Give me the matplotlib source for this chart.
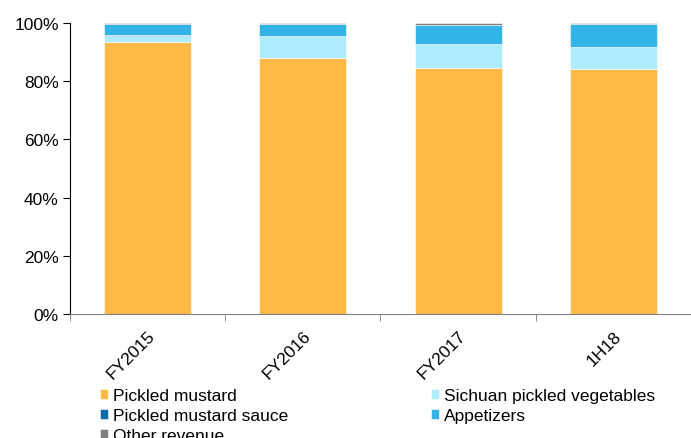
import matplotlib.pyplot as plt
import numpy as np
from matplotlib.ticker import PercentFormatter

plt.rcParams["font.family"] = ["Liberation Sans", "DejaVu Sans"]

periods = ["FY2015", "FY2016", "FY2017", "1H18"]
series = ["Pickled mustard", "Sichuan pickled vegetables", "Pickled mustard sauce",
          "Appetizers", "Other revenue"]
pickled_mustard = [93.4, 88.0, 84.5, 84.2]
sichuan_veg = [2.3, 7.5, 8.2, 7.6]
mustard_sauce = [0.2, 0.0, 0.0, 0.0]
appetizers = [3.8, 4.2, 6.8, 7.9]
other_revenue = [0.3, 0.3, 0.5, 0.3]

colors = ["#FFB946", "#AEEBFC", "#0A6AAA", "#33B4E6", "#808080"]

fig = plt.figure(figsize=(6.91, 4.39), dpi=100)
ax = fig.add_axes([0.101, 0.2825, 0.899, 0.6625])

x = np.arange(len(periods))
bottom = np.zeros(len(periods))
handles = []
for vals, name, c in zip([pickled_mustard, sichuan_veg, mustard_sauce, appetizers, other_revenue],
                         series, colors):
    b = ax.bar(x, vals, 0.56, bottom=bottom, color=c, label=name,
               edgecolor="white", linewidth=0.4)
    handles.append(b)
    bottom += np.array(vals)

ax.set_xlim(-0.5, 3.5)
ax.set_ylim(0, 100)
ax.set_yticks([0, 20, 40, 60, 80, 100])
ax.yaxis.set_major_formatter(PercentFormatter(decimals=0))
ax.tick_params(axis="y", labelsize=12.5, length=5, direction="out", pad=3)

ax.set_xticks(x)
ax.set_xticklabels(periods, rotation=45, ha="right", rotation_mode="anchor", fontsize=12.5)
ax.tick_params(axis="x", which="major", length=0, pad=10)
ax.set_xticks(np.arange(-0.5, 3.6, 1), minor=True)
ax.tick_params(axis="x", which="minor", length=5, color="#808080")

for s in ["top", "right"]:
    ax.spines[s].set_visible(False)
ax.spines["left"].set_color("black")
ax.spines["bottom"].set_color("#808080")
ax.grid(False)

order = [0, 2, 4, 1, 3]
fig.legend([handles[i] for i in order], [series[i] for i in order],
           loc="upper left", bbox_to_anchor=(0.145, 0.113), ncol=2, frameon=False,
           fontsize=12.5, handlelength=0.46, handleheight=0.46, handletextpad=0.3,
           labelspacing=0.28, columnspacing=8.2, borderpad=0, borderaxespad=0)

fig.savefig("out.png", dpi=100)
